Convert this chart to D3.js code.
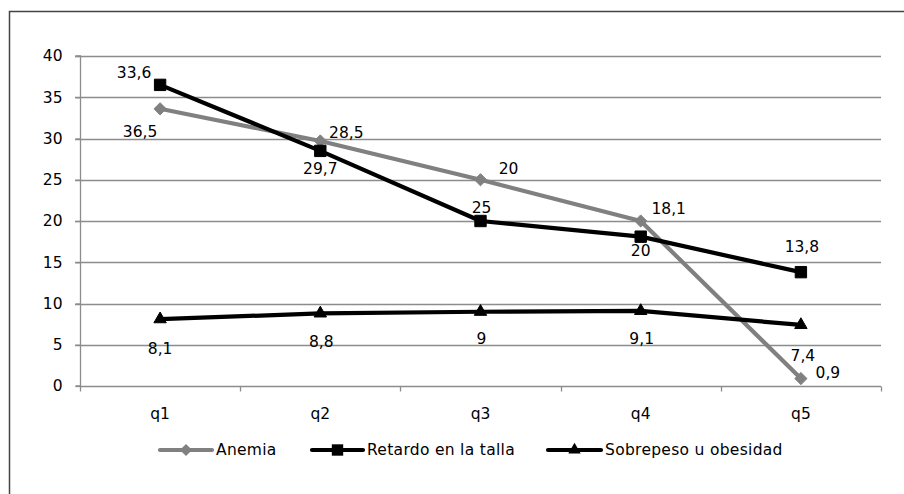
<!DOCTYPE html>
<html>
<head>
<meta charset="utf-8">
<script src="https://cdn.jsdelivr.net/npm/d3@7"></script>
<style>
  html, body { margin: 0; padding: 0; background: #fff; }
  svg { display: block; }
  text { font-family: "DejaVu Sans", sans-serif; fill: #000; }
</style>
</head>
<body>
<svg id="chart" width="904" height="494"></svg>
<script>
// Quintiles
const categories = ["q1", "q2", "q3", "q4", "q5"];

// Prevalence (%) by quintile
const anemia = [33.6, 29.7, 25, 20, 0.9];
const retardo = [36.5, 28.5, 20, 18.1, 13.8];
const sobrepeso = [8.1, 8.8, 9, 9.1, 7.4];

const seriesNames = ["Anemia", "Retardo en la talla", "Sobrepeso u obesidad"];
const yTicks = [0, 5, 10, 15, 20, 25, 30, 35, 40];

// Label offsets (px) from each point, per series
const labelOffsets = [
  [[-26, -36], [0, 28], [1, 28], [0, 30], [27, -6]],
  [[-20, 47], [26, -18], [28, -52], [28, -28], [1, -26]],
  [[0, 29], [1, 28], [1, 27], [1, 28], [2, 31]]
];

const fmt = v => String(v).replace(".", ",");
const FS = 15.5;

const svg = d3.select("#chart");
const margin = { left: 80, right: 23, top: 56, bottom: 108 };
const W = 904, H = 494;

const x = d3.scaleBand().domain(categories).range([margin.left, W - margin.right]);
const y = d3.scaleLinear().domain([0, 40]).range([H - margin.bottom, margin.top]);

// Outer frame
svg.append("rect")
  .attr("x", 9.5).attr("y", 11.5)
  .attr("width", 920).attr("height", 520)
  .attr("fill", "none").attr("stroke", "#444").attr("stroke-width", 1.5);

// Horizontal gridlines
svg.append("g")
  .selectAll("line")
  .data(yTicks.filter(t => t > 0))
  .join("line")
  .attr("x1", margin.left - 5).attr("x2", W - margin.right)
  .attr("y1", d => Math.round(y(d)) + 0.5).attr("y2", d => Math.round(y(d)) + 0.5)
  .attr("stroke", "#8c8c8c").attr("stroke-width", 1.3);

// Y axis
const yAxis = svg.append("g")
  .attr("transform", `translate(${margin.left + 0.5},0)`)
  .call(d3.axisLeft(y).tickValues(yTicks).tickSize(5).tickPadding(13));
yAxis.select(".domain").attr("stroke", "#8c8c8c").attr("stroke-width", 1.3)
  .attr("d", `M-5,${y(0)}H0V${y(40)}H-5`);
yAxis.selectAll(".tick line").attr("stroke", "#8c8c8c").attr("stroke-width", 1.3);
yAxis.selectAll(".tick text").attr("font-size", FS)
  .attr("font-family", "DejaVu Sans, sans-serif").attr("fill", "#000");

// X axis with ticks at category boundaries
const xAxisG = svg.append("g").attr("transform", `translate(0,${Math.round(y(0)) + 0.5})`);
xAxisG.append("line")
  .attr("x1", margin.left).attr("x2", W - margin.right)
  .attr("stroke", "#8c8c8c").attr("stroke-width", 1.3);
const bounds = categories.map(c => x(c)).concat([x(categories[categories.length - 1]) + x.bandwidth()]);
xAxisG.selectAll("line.tk")
  .data(bounds)
  .join("line").attr("class", "tk")
  .attr("x1", d => Math.round(d) + 0.5).attr("x2", d => Math.round(d) + 0.5)
  .attr("y1", 0).attr("y2", 5)
  .attr("stroke", "#8c8c8c").attr("stroke-width", 1.3);
xAxisG.selectAll("text")
  .data(categories)
  .join("text")
  .attr("x", d => x(d) + x.bandwidth() / 2)
  .attr("y", 27)
  .attr("dy", "0.35em")
  .attr("text-anchor", "middle")
  .attr("font-size", FS)
  .text(d => d);

const cx = c => x(c) + x.bandwidth() / 2;

const series = [
  { name: seriesNames[0], values: anemia, color: "#808080", marker: "diamond" },
  { name: seriesNames[1], values: retardo, color: "#000000", marker: "square" },
  { name: seriesNames[2], values: sobrepeso, color: "#000000", marker: "triangle" }
];

const symbolOf = {
  diamond: d3.symbol().type(d3.symbolDiamond2).size(95),
  square: d3.symbol().type(d3.symbolSquare2).size(165),
  triangle: d3.symbol().type(d3.symbolTriangle2).size(110)
};

const line = d3.line().x((d, i) => cx(categories[i])).y(d => y(d));

series.forEach(s => {
  svg.append("path")
    .datum(s.values)
    .attr("d", line)
    .attr("fill", "none")
    .attr("stroke", s.color)
    .attr("stroke-width", 4.2)
    .attr("stroke-linejoin", "round");
});

series.forEach(s => {
  svg.append("g")
    .selectAll("path")
    .data(s.values)
    .join("path")
    .attr("transform", (d, i) => `translate(${cx(categories[i])},${y(d)})`)
    .attr("d", symbolOf[s.marker]())
    .attr("fill", s.color)
    .attr("stroke", s.color)
    .attr("stroke-width", 1);
});

// Data labels
series.forEach((s, si) => {
  svg.append("g")
    .selectAll("text")
    .data(s.values)
    .join("text")
    .attr("x", (d, i) => cx(categories[i]) + labelOffsets[si][i][0])
    .attr("y", (d, i) => y(d) + labelOffsets[si][i][1])
    .attr("dy", "0.35em")
    .attr("text-anchor", "middle")
    .attr("font-size", FS)
    .text(d => fmt(d));
});

// Legend
const legendY = 450;
const legendItems = [
  { s: series[0], x0: 160, x1: 212 },
  { s: series[1], x0: 312, x1: 363 },
  { s: series[2], x0: 548, x1: 601 }
];
const legend = svg.append("g");
legendItems.forEach(it => {
  legend.append("line")
    .attr("x1", it.x0).attr("x2", it.x1)
    .attr("y1", legendY).attr("y2", legendY)
    .attr("stroke", it.s.color).attr("stroke-width", 4.2).attr("stroke-linecap", "round");
  legend.append("path")
    .attr("transform", `translate(${(it.x0 + it.x1) / 2},${legendY})`)
    .attr("d", symbolOf[it.s.marker]())
    .attr("fill", it.s.color);
  legend.append("text")
    .attr("x", it.x1 + 4).attr("y", legendY)
    .attr("dy", "0.35em")
    .attr("font-size", FS)
    .attr("letter-spacing", 0.3)
    .text(it.s.name);
});
</script>
</body>
</html>
